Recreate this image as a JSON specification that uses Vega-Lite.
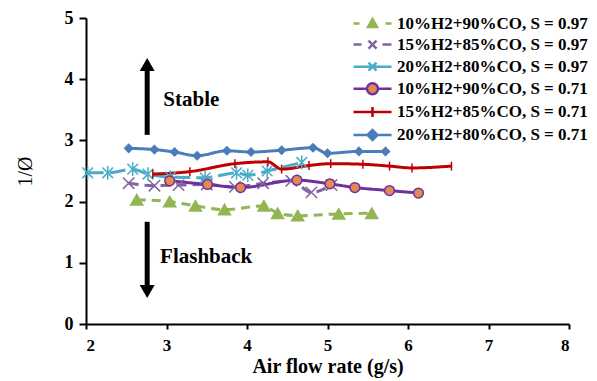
{
  "$schema": "https://vega.github.io/schema/vega-lite/v6.json",
  "width": 483,
  "height": 306,
  "autosize": {"type": "none"},
  "padding": {"left": 86, "top": 18, "right": 28, "bottom": 57},
  "background": "white",
  "config": {
    "font": "Liberation Serif",
    "view": {"stroke": null},
    "axis": {
      "grid": false,
      "domainColor": "black",
      "domainWidth": 2,
      "tickColor": "black",
      "tickWidth": 2,
      "labelColor": "black",
      "labelFont": "Liberation Serif",
      "labelFontWeight": "bold",
      "titleFont": "Liberation Serif",
      "titleColor": "black"
    }
  },
  "resolve": {"scale": {"fill": "independent", "stroke": "independent", "shape": "independent", "size": "independent"}},
  "datasets": {
    "pts": [
      {"s": "10%H2+90%CO, S = 0.97", "x": 2.63, "y": 2.03},
      {"s": "10%H2+90%CO, S = 0.97", "x": 3.04, "y": 2.0},
      {"s": "10%H2+90%CO, S = 0.97", "x": 3.36, "y": 1.93},
      {"s": "10%H2+90%CO, S = 0.97", "x": 3.72, "y": 1.87},
      {"s": "10%H2+90%CO, S = 0.97", "x": 4.21, "y": 1.93},
      {"s": "10%H2+90%CO, S = 0.97", "x": 4.38, "y": 1.81},
      {"s": "10%H2+90%CO, S = 0.97", "x": 4.63, "y": 1.77},
      {"s": "10%H2+90%CO, S = 0.97", "x": 5.14, "y": 1.8},
      {"s": "10%H2+90%CO, S = 0.97", "x": 5.55, "y": 1.81},
      {"s": "15%H2+85%CO, S = 0.97", "x": 2.53, "y": 2.3},
      {"s": "15%H2+85%CO, S = 0.97", "x": 2.85, "y": 2.26},
      {"s": "15%H2+85%CO, S = 0.97", "x": 3.15, "y": 2.27},
      {"s": "15%H2+85%CO, S = 0.97", "x": 3.5, "y": 2.28},
      {"s": "15%H2+85%CO, S = 0.97", "x": 3.85, "y": 2.24},
      {"s": "15%H2+85%CO, S = 0.97", "x": 4.2, "y": 2.3},
      {"s": "15%H2+85%CO, S = 0.97", "x": 4.55, "y": 2.34},
      {"s": "15%H2+85%CO, S = 0.97", "x": 4.8, "y": 2.15},
      {"s": "15%H2+85%CO, S = 0.97", "x": 5.05, "y": 2.27},
      {"s": "20%H2+80%CO, S = 0.97", "x": 2.02, "y": 2.47},
      {"s": "20%H2+80%CO, S = 0.97", "x": 2.27, "y": 2.47},
      {"s": "20%H2+80%CO, S = 0.97", "x": 2.58, "y": 2.53},
      {"s": "20%H2+80%CO, S = 0.97", "x": 2.77, "y": 2.45},
      {"s": "20%H2+80%CO, S = 0.97", "x": 3.05, "y": 2.4},
      {"s": "20%H2+80%CO, S = 0.97", "x": 3.48, "y": 2.39},
      {"s": "20%H2+80%CO, S = 0.97", "x": 3.87, "y": 2.47},
      {"s": "20%H2+80%CO, S = 0.97", "x": 4.01, "y": 2.43},
      {"s": "20%H2+80%CO, S = 0.97", "x": 4.25, "y": 2.5},
      {"s": "20%H2+80%CO, S = 0.97", "x": 4.68, "y": 2.64},
      {"s": "10%H2+90%CO, S = 0.71", "x": 3.04, "y": 2.34},
      {"s": "10%H2+90%CO, S = 0.71", "x": 3.51, "y": 2.28},
      {"s": "10%H2+90%CO, S = 0.71", "x": 3.92, "y": 2.23},
      {"s": "10%H2+90%CO, S = 0.71", "x": 4.62, "y": 2.35},
      {"s": "10%H2+90%CO, S = 0.71", "x": 5.03, "y": 2.29},
      {"s": "10%H2+90%CO, S = 0.71", "x": 5.34, "y": 2.23},
      {"s": "10%H2+90%CO, S = 0.71", "x": 5.77, "y": 2.18},
      {"s": "10%H2+90%CO, S = 0.71", "x": 6.13, "y": 2.14},
      {"s": "15%H2+85%CO, S = 0.71", "x": 2.83, "y": 2.45},
      {"s": "15%H2+85%CO, S = 0.71", "x": 3.29, "y": 2.49},
      {"s": "15%H2+85%CO, S = 0.71", "x": 3.85, "y": 2.62},
      {"s": "15%H2+85%CO, S = 0.71", "x": 4.26, "y": 2.65},
      {"s": "15%H2+85%CO, S = 0.71", "x": 4.43, "y": 2.53},
      {"s": "15%H2+85%CO, S = 0.71", "x": 4.77, "y": 2.59},
      {"s": "15%H2+85%CO, S = 0.71", "x": 5.04, "y": 2.62},
      {"s": "15%H2+85%CO, S = 0.71", "x": 5.44, "y": 2.61},
      {"s": "15%H2+85%CO, S = 0.71", "x": 5.77, "y": 2.58},
      {"s": "15%H2+85%CO, S = 0.71", "x": 6.05, "y": 2.55},
      {"s": "15%H2+85%CO, S = 0.71", "x": 6.54, "y": 2.58},
      {"s": "20%H2+80%CO, S = 0.71", "x": 2.53, "y": 2.87},
      {"s": "20%H2+80%CO, S = 0.71", "x": 2.85, "y": 2.85},
      {"s": "20%H2+80%CO, S = 0.71", "x": 3.1, "y": 2.81},
      {"s": "20%H2+80%CO, S = 0.71", "x": 3.38, "y": 2.75},
      {"s": "20%H2+80%CO, S = 0.71", "x": 3.75, "y": 2.83},
      {"s": "20%H2+80%CO, S = 0.71", "x": 4.05, "y": 2.81},
      {"s": "20%H2+80%CO, S = 0.71", "x": 4.43, "y": 2.84},
      {"s": "20%H2+80%CO, S = 0.71", "x": 4.82, "y": 2.88},
      {"s": "20%H2+80%CO, S = 0.71", "x": 5.0, "y": 2.79},
      {"s": "20%H2+80%CO, S = 0.71", "x": 5.39, "y": 2.82},
      {"s": "20%H2+80%CO, S = 0.71", "x": 5.72, "y": 2.82}
    ],
    "arrows": [
      {"arrow": "up", "x": 2.76, "y": 3.09, "y2": 4.2, "head": 4.24},
      {"arrow": "down", "x": 2.76, "y": 1.67, "y2": 0.58, "head": 0.53}
    ],
    "labels": [
      {"label": "Stable", "x": 2.96, "y": 3.66},
      {"label": "Flashback", "x": 2.92, "y": 1.09}
    ]
  },
  "layer": [
    {
      "data": {"name": "pts"},
      "mark": {"type": "line", "strokeWidth": 3, "interpolate": "monotone"},
      "encoding": {
        "x": {"field": "x", "type": "quantitative", "title": "Air flow rate (g/s)",
          "scale": {"domain": [2, 8], "nice": false, "zero": false},
          "axis": {"values": [2, 3, 4, 5, 6, 7, 8], "format": "d", "labelFontSize": 17, "tickSize": 5, "labelPadding": 8,
            "titleFontSize": 20, "titleFontWeight": "bold", "titlePadding": 3}},
        "y": {"field": "y", "type": "quantitative", "title": "1/Ø",
          "scale": {"domain": [0, 5], "nice": false},
          "axis": {"values": [0, 0.5, 1, 1.5, 2, 2.5, 3, 3.5, 4, 4.5, 5], "format": "~g", "labelFontSize": 18,
            "tickSize": 7, "labelPadding": 6, "titleFontSize": 20, "titleFontWeight": "normal", "titlePadding": 29}},
        "color": {"field": "s", "type": "nominal", "legend": null,
          "scale": {"domain": ["10%H2+90%CO, S = 0.71", "10%H2+90%CO, S = 0.97", "15%H2+85%CO, S = 0.71", "15%H2+85%CO, S = 0.97", "20%H2+80%CO, S = 0.71", "20%H2+80%CO, S = 0.97"],
            "range": ["#7030A0", "#93B553", "#C00000", "#8064A2", "#4A7DBA", "#4BACC6"]}},
        "strokeDash": {"field": "s", "type": "nominal", "legend": null,
          "scale": {"domain": ["10%H2+90%CO, S = 0.71", "10%H2+90%CO, S = 0.97", "15%H2+85%CO, S = 0.71", "15%H2+85%CO, S = 0.97", "20%H2+80%CO, S = 0.71", "20%H2+80%CO, S = 0.97"],
            "range": [[1, 0], [9, 6], [1, 0], [10, 6], [1, 0], [16, 6]]}}
      }
    },
    {
      "data": {"name": "pts"},
      "mark": {"type": "point", "filled": true, "opacity": 1, "strokeWidth": 1.5},
      "encoding": {
        "x": {"field": "x", "type": "quantitative", "title": "Air flow rate (g/s)"},
        "y": {"field": "y", "type": "quantitative", "title": "1/Ø"},
        "fill": {"field": "s", "type": "nominal", "legend": null,
          "scale": {"domain": ["10%H2+90%CO, S = 0.97", "15%H2+85%CO, S = 0.97", "20%H2+80%CO, S = 0.97", "10%H2+90%CO, S = 0.71", "15%H2+85%CO, S = 0.71", "20%H2+80%CO, S = 0.71"],
            "range": ["#93B553", "transparent", "transparent", "#E38B4F", "#C00000", "#4A7DBA"]}},
        "stroke": {"field": "s", "type": "nominal", "legend": null,
          "scale": {"domain": ["10%H2+90%CO, S = 0.97", "15%H2+85%CO, S = 0.97", "20%H2+80%CO, S = 0.97", "10%H2+90%CO, S = 0.71", "15%H2+85%CO, S = 0.71", "20%H2+80%CO, S = 0.71"],
            "range": ["#93B553", "#8064A2", "#4BACC6", "#7030A0", "#C00000", "#4A7DBA"]}},
        "shape": {"field": "s", "type": "nominal", "legend": null,
          "scale": {"domain": ["10%H2+90%CO, S = 0.97", "15%H2+85%CO, S = 0.97", "20%H2+80%CO, S = 0.97", "10%H2+90%CO, S = 0.71", "15%H2+85%CO, S = 0.71", "20%H2+80%CO, S = 0.71"],
            "range": ["triangle-up", "M-1,-1L1,1M-1,1L1,-1", "M-1,-1L1,1M-1,1L1,-1M0,-1.3V1.3", "circle", "M0,-1V1", "diamond"]}},
        "size": {"field": "s", "type": "nominal", "legend": null,
          "scale": {"domain": ["10%H2+90%CO, S = 0.97", "15%H2+85%CO, S = 0.97", "20%H2+80%CO, S = 0.97", "10%H2+90%CO, S = 0.71", "15%H2+85%CO, S = 0.71", "20%H2+80%CO, S = 0.71"],
            "range": [144, 64, 130, 196, 121, 121]}}
      }
    },
    {
      "data": {"name": "pts"},
      "mark": {"type": "point", "filled": true, "opacity": 0, "strokeWidth": 2.5},
      "encoding": {
        "fill": {"field": "s", "type": "nominal",
          "scale": {"domain": ["10%H2+90%CO, S = 0.97", "15%H2+85%CO, S = 0.97", "20%H2+80%CO, S = 0.97", "10%H2+90%CO, S = 0.71", "15%H2+85%CO, S = 0.71", "20%H2+80%CO, S = 0.71"],
            "range": ["#93B553", "transparent", "transparent", "#E38B4F", "#C00000", "#4A7DBA"]},
          "legend": {"title": null, "orient": "none", "legendX": 275, "legendY": -6, "padding": 0, "symbolSize": 400, "symbolStrokeWidth": 2.5, "symbolOpacity": 1,
            "labelFont": "Liberation Serif", "labelFontWeight": "bold", "labelFontSize": 17, "labelColor": "black", "labelOffset": 13, "rowPadding": 1.1, "labelLimit": 400}},
        "stroke": {"field": "s", "type": "nominal",
          "scale": {"domain": ["10%H2+90%CO, S = 0.97", "15%H2+85%CO, S = 0.97", "20%H2+80%CO, S = 0.97", "10%H2+90%CO, S = 0.71", "15%H2+85%CO, S = 0.71", "20%H2+80%CO, S = 0.71"],
            "range": ["#93B553", "#8064A2", "#4BACC6", "#7030A0", "#C00000", "#4A7DBA"]},
          "legend": {"title": null, "orient": "none", "legendX": 275, "legendY": -6, "padding": 0, "symbolSize": 400, "symbolStrokeWidth": 2.5, "symbolOpacity": 1,
            "labelFont": "Liberation Serif", "labelFontWeight": "bold", "labelFontSize": 17, "labelColor": "black", "labelOffset": 13, "rowPadding": 1.1, "labelLimit": 400}},
        "shape": {"field": "s", "type": "nominal",
          "scale": {"domain": ["10%H2+90%CO, S = 0.97", "15%H2+85%CO, S = 0.97", "20%H2+80%CO, S = 0.97", "10%H2+90%CO, S = 0.71", "15%H2+85%CO, S = 0.71", "20%H2+80%CO, S = 0.71"],
            "range": ["M-1.9,0H-1.3M-0.45,0.35L0,-0.45L0.45,0.35ZM1.3,0H1.9", "M-1.9,0H-1.1M-0.4,-0.4L0.4,0.4M-0.4,0.4L0.4,-0.4M1.0,0H1.9", "M-1.9,0H1.9M-0.4,-0.4L0.4,0.4M-0.4,0.4L0.4,-0.4", "M-1.9,0H-0.55M0.55,0H1.9M0.55,0A0.55,0.55,0,1,1,-0.55,0A0.55,0.55,0,1,1,0.55,0Z", "M-1.9,0H1.9M0,-0.5V0.5", "M-1.9,0H-0.5M0.5,0H1.9M-0.5,0L0,-0.5L0.5,0L0,0.5Z"]},
          "legend": {"title": null, "orient": "none", "legendX": 275, "legendY": -6, "padding": 0, "symbolSize": 400, "symbolStrokeWidth": 2.5, "symbolOpacity": 1,
            "labelFont": "Liberation Serif", "labelFontWeight": "bold", "labelFontSize": 17, "labelColor": "black", "labelOffset": 13, "rowPadding": 1.1, "labelLimit": 400}}
      }
    },
    {
      "data": {"name": "arrows"},
      "mark": {"type": "rule", "strokeWidth": 5, "color": "black"},
      "encoding": {
        "x": {"field": "x", "type": "quantitative", "title": "Air flow rate (g/s)"},
        "y": {"field": "y", "type": "quantitative", "title": "1/Ø"},
        "y2": {"field": "y2"}
      }
    },
    {
      "data": {"name": "arrows"},
      "transform": [{"filter": "datum.arrow == 'up'"}],
      "mark": {"type": "point", "shape": "triangle-up", "filled": true, "color": "black", "opacity": 1, "size": 225},
      "encoding": {
        "x": {"field": "x", "type": "quantitative", "title": "Air flow rate (g/s)"},
        "y": {"field": "head", "type": "quantitative", "title": "1/Ø"}
      }
    },
    {
      "data": {"name": "arrows"},
      "transform": [{"filter": "datum.arrow == 'down'"}],
      "mark": {"type": "point", "shape": "triangle-down", "filled": true, "color": "black", "opacity": 1, "size": 225},
      "encoding": {
        "x": {"field": "x", "type": "quantitative", "title": "Air flow rate (g/s)"},
        "y": {"field": "head", "type": "quantitative", "title": "1/Ø"}
      }
    },
    {
      "data": {"name": "labels"},
      "mark": {"type": "text", "align": "left", "baseline": "middle", "font": "Liberation Serif", "fontWeight": "bold", "fontSize": 21, "color": "black"},
      "encoding": {
        "x": {"field": "x", "type": "quantitative", "title": "Air flow rate (g/s)"},
        "y": {"field": "y", "type": "quantitative", "title": "1/Ø"},
        "text": {"field": "label"}
      }
    }
  ]
}
